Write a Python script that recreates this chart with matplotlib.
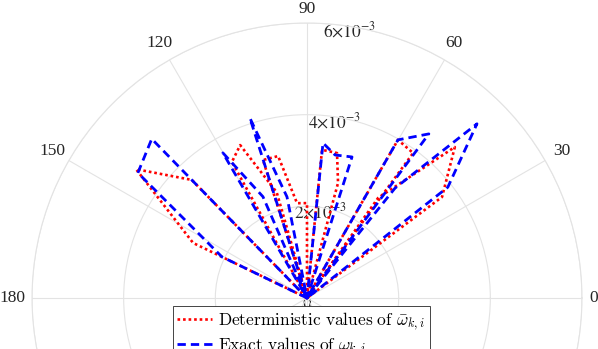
import matplotlib

matplotlib.use("Agg")
import matplotlib.pyplot as plt
import numpy as np
from matplotlib.font_manager import FontProperties

# polar traces, angle in degrees, radius in units of 1e-3
red_theta = [154, 154.2, 143.0, 134.3, 130, 118.9, 113.6, 106.0, 106, 107.7, 101.5, 96.0, 90.0,
             90, 84.2, 78.3, 74.9, 70, 60.1, 53.8, 54, 54.6, 45.6, 36.8, 36]
red_r = [0, 2.76, 4.67, 3.60, 0, 3.39, 3.64, 2.40, 0, 3.16, 3.16, 2.08, 2.07,
         0, 3.25, 3.23, 2.60, 0, 3.98, 3.92, 0, 2.68, 4.61, 3.68, 0]

blue_theta = [154, 154.2, 143.5, 134.3, 130, 120.1, 113.5, 110, 107.6, 101.2, 95,
              84.1, 78.9, 72.3, 70, 60.1, 53.4, 52, 51.3, 45.7, 38.2, 36]
blue_r = [0, 2.06, 4.59, 4.85, 0, 3.66, 2.41, 0, 4.12, 2.25, 0,
          3.40, 3.18, 3.23, 0, 3.98, 4.46, 0, 3.07, 5.31, 3.91, 0]

r_ticks = [0, 2, 4, 6]
r_tick_labels = ["0", r"$2{\times}10^{-3}$", r"$4{\times}10^{-3}$", r"$6{\times}10^{-3}$"]
theta_ticks = [0, 30, 60, 90, 120, 150, 180, 210, 240, 270, 300, 330]
theta_labels = ["0", "30", "60", "90", "120", "150", "180"]  # lower half is cropped away
legend_labels = [r"$\mathrm{Deterministic\ values\ of\ }\bar{\omega}_{k,i}$",
                 r"$\mathrm{Exact\ values\ of\ }\omega_{k,i}$"]

W, H = 598, 349
cx, cy, R = 307, 298, 275  # centre and outer radius in pixels

fig = plt.figure(figsize=(W / 100, H / 100), dpi=100)
ax = fig.add_axes([(cx - R) / W, (H - cy - R) / H, 2 * R / W, 2 * R / H], projection="polar")

grid_c = "#e3e3e3"
ax.plot(np.deg2rad(red_theta), np.array(red_r) * 1e-3, color="#ff0000", lw=1.9,
        linestyle=(0, (1, 1.1)), label=legend_labels[0], zorder=3)
ax.plot(np.deg2rad(blue_theta), np.array(blue_r) * 1e-3, color="#0000ff", lw=2.0,
        linestyle=(0, (3, 1.8)), label=legend_labels[1], zorder=3)

ax.set_ylim(0, 6e-3)
ax.set_yticks(np.array(r_ticks) * 1e-3)
ax.set_yticklabels([])
ax.set_xticks(np.deg2rad(theta_ticks))
ax.set_xticklabels([])
ax.grid(True, color=grid_c, lw=0.8)
ax.spines["polar"].set_color(grid_c)
ax.spines["polar"].set_linewidth(0.8)

for lab in theta_labels:
    t = int(lab)
    rr = 6.25 if t == 0 else (6.3 if t == 90 else 6.42)
    ax.text(np.deg2rad(t), rr * 1e-3, lab, family="Liberation Serif", fontsize=12.5,
            color="#262626", ha="center", va="center", clip_on=False)

lab_fp = FontProperties(family="Liberation Serif", size=12.5, math_fontfamily="stix")
for v, lab in zip(r_ticks, r_tick_labels):
    if v == 0:
        ax.text(np.deg2rad(270), 0.12e-3, lab, fontproperties=lab_fp, color="#262626",
                ha="center", va="center", zorder=1)
    else:
        ax.text(np.deg2rad(81), (v - 0.11) * 1e-3, lab, fontproperties=lab_fp, color="#262626",
                ha="center", va="center", zorder=1)

leg_fp = FontProperties(size=12.5, math_fontfamily="cm")
leg = fig.legend(loc="upper left", bbox_to_anchor=(173 / W, 1 - 306 / H), prop=leg_fp,
                 fancybox=False, edgecolor="#262626", framealpha=1, borderaxespad=0,
                 handlelength=2.0, handletextpad=0.35, borderpad=0.25, labelspacing=0.15)
leg.get_frame().set_linewidth(0.6)

fig.savefig("out.png", dpi=100)
